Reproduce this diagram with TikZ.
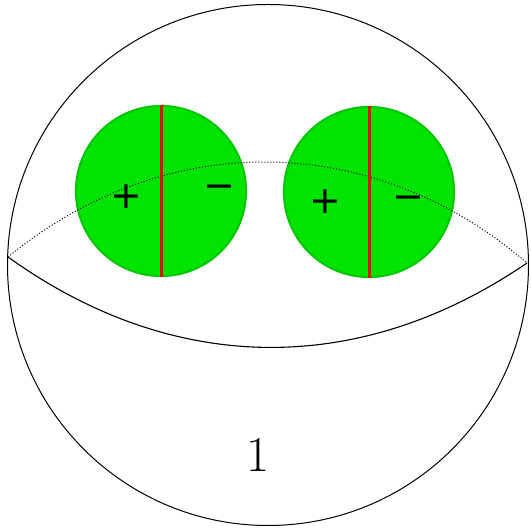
\documentclass[tikz,border=0pt]{standalone}
\usepackage{fontspec}
\newfontfamily\signfont{DejaVu Sans}
\usepackage{xcolor}
\usetikzlibrary{positioning, calc}

\definecolor{diskfill}{RGB}{0,228,0}
\definecolor{diskedge}{RGB}{0,200,0}

\begin{document}
\begin{tikzpicture}[x=1pt, y=1pt,
    disk/.style={circle, draw=diskedge, line width=2.2pt, fill=diskfill, minimum size=170pt, inner sep=0pt},
    cut/.style={draw=red, line width=3pt},
    sign/.style={font=\signfont\fontsize{38}{38}\selectfont, inner sep=0pt}]
      \useasboundingbox (0, 0) rectangle (531, 530);

      % Sphere
      \node[circle, draw, line width=1pt, minimum size=521pt, inner sep=0pt] (ball) at (268, 265) {};
      \coordinate (eqL) at (8, 273);
      \coordinate (eqR) at (527, 267);

      % Front of the equator
      \draw[line width=1.1pt] (eqL) to[bend right=35] (eqR);

      % Disks
      \node[disk] (dL) at (161, 339) {};
      \node[disk] (dR) at (369, 338) {};

      % Back of the equator
      \draw[dotted, line width=1pt] (eqL) to[bend left=40] (eqR);

      % Cuts
      \draw[cut] (dL.north) -- (dL.south);
      \draw[cut] (dR.north) -- (dR.south);

      % Signs
      \node[sign] (pL) at (126, 333) {+};
      \node[sign] (mL) at (219, 338) {−};
      \node[sign] (pR) at (325, 328) {+};
      \node[sign] (mR) at (408, 327) {−};

      % Label
      \node[font=\fontsize{50}{50}\selectfont] (num) at (258, 75) {1};
    \end{tikzpicture}
\end{document}
